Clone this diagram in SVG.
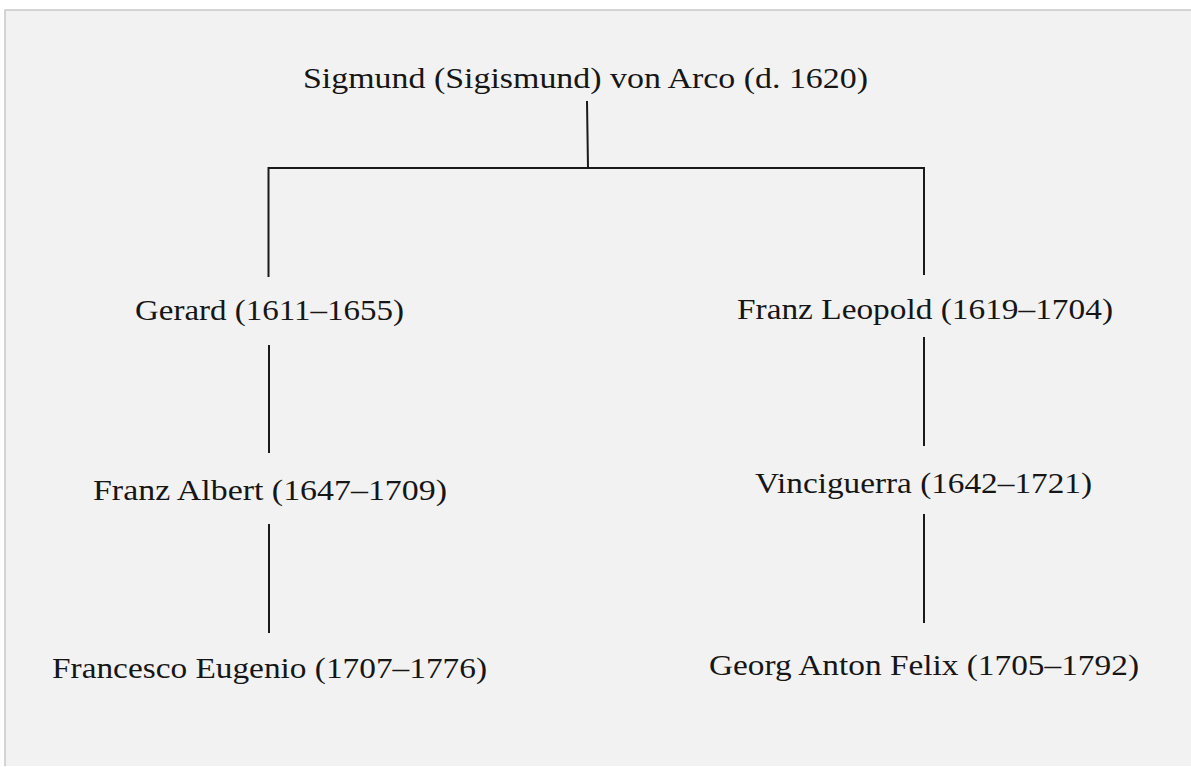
<svg xmlns="http://www.w3.org/2000/svg" width="1191" height="767" viewBox="0 0 1191 767">
  <style>
    .lbl { font-family: "Liberation Serif", "DejaVu Serif", serif; font-size: 30px; fill: #161616; text-anchor: middle; }
    .conn { stroke: #1a1a1a; stroke-width: 2; fill: none; stroke-linecap: butt; }
    .edge { stroke: #c8c8c8; stroke-width: 1.5; fill: none; }
  </style>
  <rect x="0" y="0" width="1191" height="767" fill="#ffffff"/>
  <rect x="5" y="10" width="1186" height="756" fill="#f2f2f2"/>
  <path class="edge" d="M5 766 L5 10 L1191 10"/>
  <g id="connectors">
    <path class="conn" d="M587 101 L588 168"/>
    <path class="conn" d="M268.5 277 L268.5 168 L924 168 L924 275"/>
    <path class="conn" d="M269 345 L269 453"/>
    <path class="conn" d="M924 337 L924 446"/>
    <path class="conn" d="M269 524 L269 633"/>
    <path class="conn" d="M924 514 L924 623"/>
  </g>
  <g id="node-sigmund"><text class="lbl" x="585.5" y="88" textLength="565" lengthAdjust="spacingAndGlyphs">Sigmund (Sigismund) von Arco (d. 1620)</text></g>
  <g id="node-gerard"><text class="lbl" x="269.5" y="320" textLength="269" lengthAdjust="spacingAndGlyphs">Gerard (1611–1655)</text></g>
  <g id="node-franz-leopold"><text class="lbl" x="925" y="319" textLength="376" lengthAdjust="spacingAndGlyphs">Franz Leopold (1619–1704)</text></g>
  <g id="node-franz-albert"><text class="lbl" x="270" y="500" textLength="354" lengthAdjust="spacingAndGlyphs">Franz Albert (1647–1709)</text></g>
  <g id="node-vinciguerra"><text class="lbl" x="923.5" y="493" textLength="337" lengthAdjust="spacingAndGlyphs">Vinciguerra (1642–1721)</text></g>
  <g id="node-francesco-eugenio"><text class="lbl" x="269.5" y="678" textLength="435" lengthAdjust="spacingAndGlyphs">Francesco Eugenio (1707–1776)</text></g>
  <g id="node-georg-anton-felix"><text class="lbl" x="924" y="675" textLength="430" lengthAdjust="spacingAndGlyphs">Georg Anton Felix (1705–1792)</text></g>
</svg>
